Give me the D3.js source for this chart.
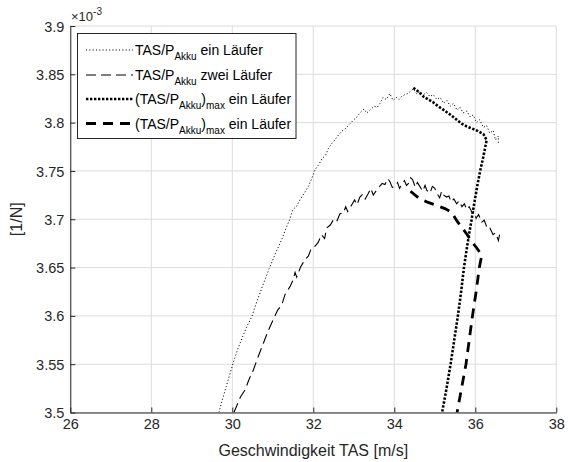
<!DOCTYPE html>
<html><head><meta charset="utf-8">
<script src="https://cdn.jsdelivr.net/npm/d3@7"></script>
<style>body{margin:0;background:#fff}svg{display:block;font-family:"Liberation Sans",Arial,sans-serif}</style>
</head><body><svg id="c" width="568" height="462"></svg>
<script>
// ---- data (y values in units of 1e-3 1/N) ----
const xTicks = [26,28,30,32,34,36,38];
const yTicks = [3.5,3.55,3.6,3.65,3.7,3.75,3.8,3.85,3.9];
const yTickLabels = ["3.5","3.55","3.6","3.65","3.7","3.75","3.8","3.85","3.9"];

const einX = [29.67,29.74,29.85,29.95,30.02,30.12,30.25,30.36,30.48,30.60,30.72,30.83,30.91,31.00,31.10,31.22,31.32,31.42,31.49,31.58,31.67,31.76,31.88,31.95,32.04,32.14,32.22,32.30,32.37,32.45,32.53,32.62,32.70,32.80,32.91,33.00,33.08,33.15,33.25,33.32,33.40,33.50,33.58,33.65,33.72,33.80,33.89,33.97,34.05,34.12,34.18,34.26,34.33,34.39,34.47,34.55,34.63,34.72,34.80,34.88,34.96,35.05,35.13,35.22,35.30,35.38,35.46,35.55,35.62,35.70,35.79,35.87,35.95,36.03,36.11,36.20,36.28,36.36,36.44,36.50,36.57,36.57];
const einY = [3.500,3.511,3.527,3.541,3.551,3.564,3.578,3.589,3.599,3.614,3.628,3.640,3.649,3.658,3.668,3.679,3.690,3.700,3.710,3.713,3.720,3.726,3.734,3.741,3.751,3.757,3.763,3.766,3.773,3.778,3.782,3.787,3.791,3.794,3.799,3.803,3.806,3.810,3.814,3.810,3.813,3.817,3.816,3.820,3.826,3.824,3.830,3.823,3.826,3.824,3.827,3.829,3.830,3.832,3.835,3.830,3.832,3.829,3.831,3.827,3.829,3.824,3.826,3.820,3.823,3.817,3.820,3.813,3.816,3.810,3.812,3.806,3.808,3.800,3.803,3.795,3.797,3.789,3.792,3.782,3.786,3.779];

const zweiX = [30.04,30.12,30.20,30.31,30.42,30.52,30.64,30.77,30.89,31.01,31.12,31.22,31.30,31.42,31.50,31.55,31.59,31.68,31.79,31.88,31.95,32.04,32.12,32.20,32.28,32.33,32.42,32.49,32.57,32.66,32.74,32.80,32.85,32.95,33.02,33.08,33.15,33.22,33.28,33.36,33.42,33.48,33.56,33.62,33.70,33.77,33.84,33.89,33.95,34.01,34.08,34.13,34.18,34.25,34.30,34.35,34.40,34.45,34.52,34.57,34.63,34.70,34.76,34.80,34.88,34.94,35.00,35.05,35.12,35.17,35.22,35.29,35.35,35.40,35.47,35.54,35.60,35.67,35.73,35.79,35.85,35.92,35.97,36.02,36.08,36.16,36.22,36.30,36.36,36.44,36.50,36.57,36.60];
const zweiY = [3.500,3.508,3.516,3.523,3.535,3.544,3.558,3.572,3.585,3.596,3.606,3.611,3.622,3.630,3.637,3.645,3.640,3.650,3.658,3.662,3.670,3.672,3.676,3.684,3.680,3.691,3.694,3.699,3.697,3.706,3.706,3.713,3.708,3.715,3.720,3.715,3.723,3.726,3.721,3.727,3.732,3.725,3.730,3.733,3.737,3.736,3.742,3.739,3.733,3.734,3.738,3.732,3.736,3.740,3.735,3.737,3.743,3.741,3.733,3.738,3.734,3.729,3.735,3.730,3.727,3.734,3.732,3.727,3.722,3.729,3.725,3.723,3.724,3.718,3.721,3.716,3.719,3.713,3.716,3.710,3.713,3.707,3.708,3.701,3.705,3.697,3.699,3.690,3.691,3.684,3.686,3.678,3.684];

const maxEinX = [34.47,34.60,34.72,34.84,34.96,35.08,35.19,35.29,35.42,35.54,35.66,35.79,35.91,36.03,36.12,36.20,36.28,36.20,36.12,36.05,35.98,35.91,35.84,35.78,35.72,35.65,35.57,35.48,35.39,35.29,35.18];
const maxEinY = [3.836,3.832,3.827,3.824,3.821,3.817,3.814,3.811,3.807,3.803,3.799,3.796,3.794,3.792,3.790,3.788,3.782,3.765,3.750,3.735,3.718,3.700,3.683,3.667,3.650,3.625,3.600,3.575,3.550,3.525,3.500];

const maxZweiX = [34.40,34.60,34.80,35.00,35.25,35.42,35.55,35.66,35.80,35.91,36.04,36.16,36.10,36.02,35.93,35.85,35.77,35.66,35.55];
const maxZweiY = [3.729,3.722,3.718,3.715,3.711,3.707,3.698,3.692,3.684,3.677,3.670,3.663,3.650,3.625,3.600,3.575,3.550,3.525,3.500];

const legendLabels = [
  {pre:"TAS/P", sub:"Akku", post:"", tail:" ein Läufer"},
  {pre:"TAS/P", sub:"Akku", post:"", tail:" zwei Läufer"},
  {pre:"(TAS/P", sub:"Akku", post:")", sub2:"max", tail:" ein Läufer"},
  {pre:"(TAS/P", sub:"Akku", post:")", sub2:"max", tail:" ein Läufer"}
];

// ---- layout ----
const L=70.3, R=556.3, T=26, B=412.5;
const svg = d3.select("#c");
const x = d3.scaleLinear().domain([26,38]).range([L,R]);
const y = d3.scaleLinear().domain([3.5,3.9]).range([B,T]);

const grid = svg.append("g").attr("stroke","#dcdcdc").attr("stroke-width",1);
xTicks.forEach(t=>grid.append("line").attr("x1",x(t)).attr("x2",x(t)).attr("y1",T).attr("y2",B));
yTicks.forEach(t=>grid.append("line").attr("y1",y(t)).attr("y2",y(t)).attr("x1",L).attr("x2",R));

svg.append("clipPath").attr("id","pc").append("rect").attr("x",L).attr("y",T).attr("width",R-L).attr("height",B-T);

const styles = [
  {w:1.0, d:"1.1,2.2"},
  {w:1.1, d:"10,5"},
  {w:2.6, d:"2.4,1.6"},
  {w:2.8, d:"10,7"}
];
const series = [[einX,einY],[zweiX,zweiY],[maxEinX,maxEinY],[maxZweiX,maxZweiY]];
const line = d3.line().x(d=>x(d[0])).y(d=>y(d[1]));
const pg = svg.append("g").attr("clip-path","url(#pc)");
series.forEach((s,i)=>{
  const pts = s[0].map((v,j)=>[v,s[1][j]]);
  pg.append("path").attr("d",line(pts)).attr("fill","none").attr("stroke","#000")
    .attr("stroke-width",styles[i].w).attr("stroke-dasharray",styles[i].d)
    .attr("stroke-linecap","butt").attr("stroke-linejoin","miter");
});

// axes
const xa = svg.append("g").attr("transform",`translate(0,${B})`)
  .call(d3.axisBottom(x).tickValues(xTicks).tickSizeInner(-5).tickSizeOuter(0).tickPadding(6));
const ya = svg.append("g").attr("transform",`translate(${L},0)`)
  .call(d3.axisLeft(y).tickValues(yTicks).tickFormat((d,i)=>yTickLabels[i]).tickSizeInner(-5).tickSizeOuter(0).tickPadding(6));
[xa,ya].forEach(a=>{
  a.select(".domain").attr("stroke","#262626").attr("stroke-width",1);
  a.selectAll(".tick line").attr("stroke","#262626");
  a.selectAll("text").attr("fill","#262626").attr("font-size","14.5px").attr("font-family","Liberation Sans, Arial, sans-serif");
});
ya.selectAll("text").attr("dy","0.35em");

svg.append("text").attr("x",(L+R)/2).attr("y",456).attr("text-anchor","middle")
  .attr("font-size","16px").attr("fill","#262626").text("Geschwindigkeit TAS [m/s]");
svg.append("text").attr("transform",`translate(22,${(T+B)/2}) rotate(-90)`).attr("text-anchor","middle")
  .attr("font-size","16px").attr("fill","#262626").text("[1/N]");

const ex = svg.append("text").attr("x",71).attr("y",21).attr("font-size","13px").attr("fill","#262626");
ex.append("tspan").text("×10");
ex.append("tspan").attr("dy",-6).attr("font-size","10px").text("-3");

// legend
const lg = svg.append("g");
lg.append("rect").attr("x",77.5).attr("y",33.5).attr("width",218.5).attr("height",105)
  .attr("fill","#fff").attr("stroke","#262626").attr("stroke-width",1);
const rowY = [50,75,99,123.5];
legendLabels.forEach((lab,i)=>{
  lg.append("line").attr("x1",86).attr("x2",133).attr("y1",rowY[i]).attr("y2",rowY[i])
    .attr("stroke","#000").attr("stroke-width",styles[i].w).attr("stroke-dasharray",styles[i].d);
  const t = lg.append("text").attr("x",135).attr("y",rowY[i]+5).attr("font-size","14px").attr("fill","#000");
  t.append("tspan").text(lab.pre);
  t.append("tspan").attr("dy",5).attr("font-size","10px").text(lab.sub);
  if(lab.post){
    t.append("tspan").attr("dy",-5).text(lab.post);
    t.append("tspan").attr("dy",5).attr("font-size","10px").text(lab.sub2);
    t.append("tspan").attr("dy",-5).text(lab.tail);
  } else {
    t.append("tspan").attr("dy",-5).text(lab.tail);
  }
});
</script></body></html>
